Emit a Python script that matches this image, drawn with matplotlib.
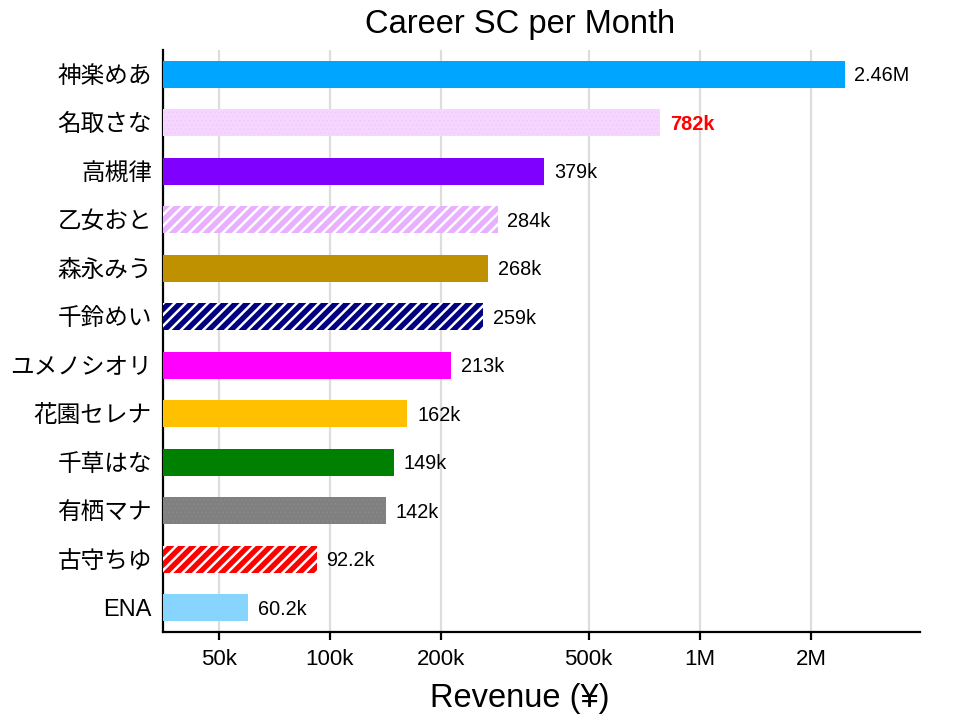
import matplotlib
matplotlib.use("Agg")
import matplotlib.pyplot as plt
from matplotlib.ticker import FixedLocator, FixedFormatter, NullLocator

plt.rcParams['font.family'] = ['Liberation Sans', 'Noto Sans CJK JP', 'DejaVu Sans']
plt.rcParams['hatch.linewidth'] = 1.8

names = ["神楽めあ", "名取さな", "高槻律", "乙女おと", "森永みう", "千鈴めい",
         "ユメノシオリ", "花園セレナ", "千草はな", "有栖マナ", "古守ちゆ", "ENA"]
values = [2.46e6, 782e3, 379e3, 284e3, 268e3, 259e3, 213e3, 162e3, 149e3, 142e3, 92.2e3, 60.2e3]
value_labels = ["2.46M", "782k", "379k", "284k", "268k", "259k", "213k", "162k",
                "149k", "142k", "92.2k", "60.2k"]
colors = ["#00A5FF", "#F6D6FF", "#8000FF", "#E8B0FF", "#BF9000", "#000080",
          "#FF00FF", "#FFC000", "#008000", "#808080", "#FF0000", "#87D4FF"]
hatches = [None, "....", None, "///", None, "///", None, None, None, "....", "///", None]
hatch_colors = [None, "#F0CCFB", None, "white", None, "white", None, None, None, "#888888", "white", None]
hatch_lw = [0, 0.8, 0, 1.8, 0, 1.8, 0, 0, 0, 0.8, 1.8, 0]

tick_vals = [50e3, 100e3, 200e3, 500e3, 1e6, 2e6]
tick_labels = ["50k", "100k", "200k", "500k", "1M", "2M"]

dpi = 100
fig = plt.figure(figsize=(9.6, 7.2), dpi=dpi)
ax = fig.add_axes([0.1698, 0.1222, 0.9583 - 0.1698, 0.9306 - 0.1222])

ypos = list(range(len(names)))
for i, (y, v) in enumerate(zip(ypos, values)):
    if hatches[i]:
        kw = dict(hatch=hatches[i], edgecolor=hatch_colors[i], linewidth=0,
                  hatch_linewidth=hatch_lw[i])
    else:
        kw = dict(edgecolor="none", linewidth=0)
    ax.barh(y, v, height=0.56, color=colors[i], zorder=3, **kw)
    if i == 1:
        ax.annotate(value_labels[i], (v, y), xytext=(7, -1), textcoords="offset points",
                    va="center", ha="left", fontsize=14.3, color="red", fontweight="bold")
    else:
        ax.annotate(value_labels[i], (v, y), xytext=(7, -1), textcoords="offset points",
                    va="center", ha="left", fontsize=14.3, color="black")

ax.set_xscale("log")
ax.set_xlim(35.4e3, 3.93e6)
ax.set_ylim(len(names) - 0.5, -0.5)
ax.set_yticks(ypos)
ax.set_yticklabels(names, fontsize=17)
ax.xaxis.set_major_locator(FixedLocator(tick_vals))
ax.xaxis.set_major_formatter(FixedFormatter(tick_labels))
ax.xaxis.set_minor_locator(NullLocator())
ax.tick_params(axis="x", labelsize=16, length=6, width=1.6, pad=6)
ax.tick_params(axis="y", length=0, pad=8)
ax.grid(axis="x", color="#DDDDDD", linewidth=1.6, zorder=0)
ax.set_axisbelow(True)
for s in ["top", "right"]:
    ax.spines[s].set_visible(False)
for s in ["left", "bottom"]:
    ax.spines[s].set_linewidth(1.6)
ax.set_xlabel("Revenue (¥)", fontsize=23.5)
ax.xaxis.set_label_coords(0.4716, -0.088)
ax.set_title("Career SC per Month", fontsize=23.5, x=0.4716, pad=12)

fig.savefig("out.png", dpi=dpi)
